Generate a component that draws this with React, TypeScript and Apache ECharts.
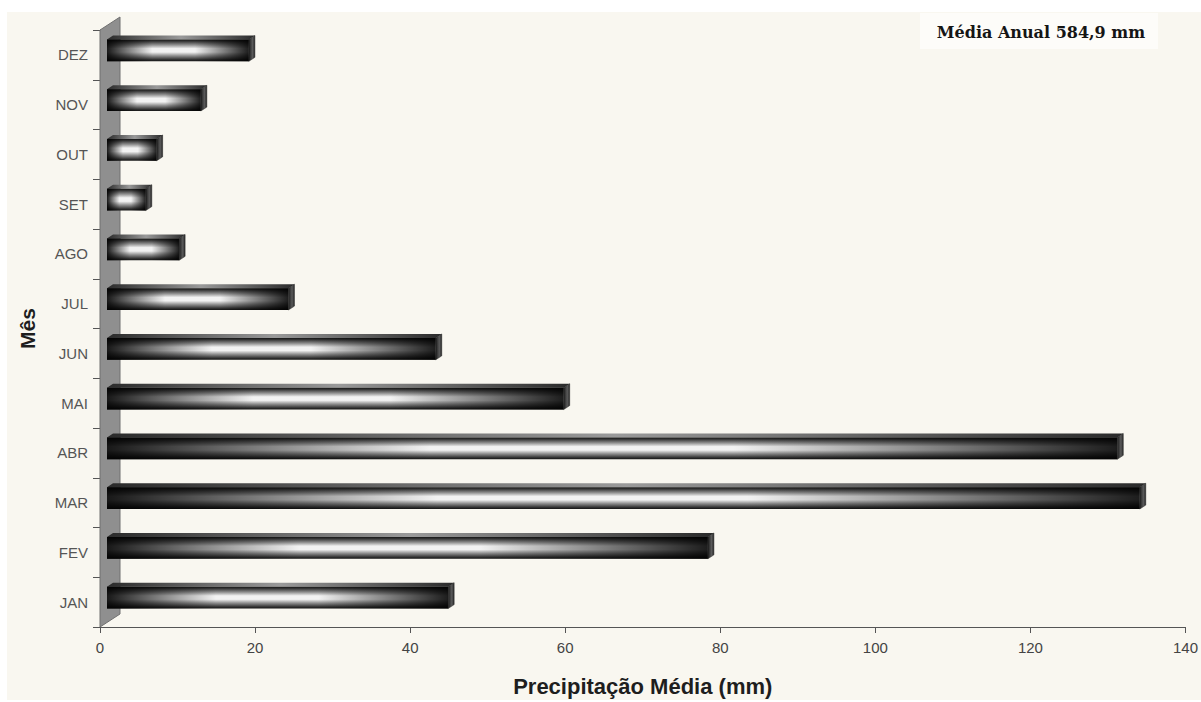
import React, { useEffect, useRef } from "react";
import * as echarts from "echarts";

// ---- data ----
const months = ["JAN", "FEV", "MAR", "ABR", "MAI", "JUN", "JUL", "AGO", "SET", "OUT", "NOV", "DEZ"];
const precipitation = [44.0, 77.5, 133.2, 130.3, 58.9, 42.4, 23.4, 9.3, 5.0, 6.4, 12.1, 18.3];
const xMin = 0;
const xMax = 140;
const xInterval = 20;
const xAxisTitle = "Precipitação Média (mm)";
const yAxisTitle = "Mês";
const annotationText = "Média Anual 584,9 mm";

// 3D depth of the chart (pixels)
const DX = 20;
const DY = 13;

export default function App() {
  const ref = useRef<HTMLDivElement>(null);

  useEffect(() => {
    if (!ref.current) return;
    const chart = echarts.init(ref.current, null, { renderer: "svg" });

    const wallRender = (params: any, api: any) => {
      const cs = params.coordSys;
      const x = cs.x;
      const y = cs.y;
      const h = cs.height;
      return {
        type: "polygon",
        shape: {
          points: [
            [x, y + h],
            [x, y],
            [x + DX, y - DY],
            [x + DX, y + h - DY],
          ],
        },
        style: { fill: "#8f8f8f", stroke: "#707070", lineWidth: 1 },
      };
    };

    const barRender = (params: any, api: any) => {
      const v = api.value(0);
      const idx = api.value(1);
      const p0 = api.coord([0, idx]);
      const p1 = api.coord([v, idx]);
      const band = api.size([0, 1])[1];
      const h = band * 0.44;
      const fx = DX * 0.35;
      const fy = -DY * 0.35;
      const cx = DX * 0.3;
      const cy = -DY * 0.3;
      const x0 = p0[0] + fx;
      const x1 = p1[0] + fx;
      const yT = p0[1] + fy - h / 2;
      const yB = yT + h;
      const w = x1 - x0;
      return {
        type: "group",
        children: [
          {
            type: "polygon",
            shape: { points: [[x0, yT], [x0 + cx, yT + cy], [x1 + cx, yT + cy], [x1, yT]] },
            style: {
              fill: new echarts.graphic.LinearGradient(0, 0, 1, 0, [
                { offset: 0, color: "#2a2a2a" },
                { offset: 0.5, color: "#9a9a9a" },
                { offset: 1, color: "#2a2a2a" },
              ]),
            },
          },
          {
            type: "rect",
            shape: { x: x0, y: yT, width: w, height: h },
            style: {
              fill: new echarts.graphic.LinearGradient(0, 0, 0, 1, [
                { offset: 0, color: "#141414" },
                { offset: 0.08, color: "#333333" },
                { offset: 0.25, color: "#8e8e8e" },
                { offset: 0.42, color: "#f2f2f2" },
                { offset: 0.58, color: "#f2f2f2" },
                { offset: 0.75, color: "#8e8e8e" },
                { offset: 0.92, color: "#333333" },
                { offset: 1, color: "#141414" },
              ]),
            },
          },
          {
            type: "rect",
            shape: { x: x0, y: yT, width: w, height: h },
            style: {
              fill: new echarts.graphic.LinearGradient(0, 0, 1, 0, [
                { offset: 0, color: "rgba(0,0,0,0.9)" },
                { offset: 0.32, color: "rgba(0,0,0,0.0)" },
                { offset: 0.62, color: "rgba(0,0,0,0.0)" },
                { offset: 1, color: "rgba(0,0,0,0.88)" },
              ]),
            },
          },
          {
            type: "polygon",
            shape: { points: [[x1, yT], [x1 + cx, yT + cy], [x1 + cx, yB + cy], [x1, yB]] },
            style: {
              fill: new echarts.graphic.LinearGradient(0, 0, 1, 0, [
                { offset: 0, color: "#1c1c1c" },
                { offset: 0.6, color: "#5a5a5a" },
                { offset: 1, color: "#2a2a2a" },
              ]),
              stroke: "#1a1a1a",
              lineWidth: 0.5,
            },
          },
        ],
      };
    };

    chart.setOption({
      animation: false,
      backgroundColor: "transparent",
      grid: { left: 100, right: 12, top: 30, bottom: 72, containLabel: false },
      xAxis: {
        type: "value",
        min: xMin,
        max: xMax,
        interval: xInterval,
        axisLine: { show: true, lineStyle: { color: "#555", width: 1 } },
        axisTick: { show: true, length: 6, lineStyle: { color: "#555" } },
        splitLine: { show: false },
        axisLabel: { color: "#444", fontSize: 15, fontFamily: "Liberation Sans", margin: 13 },
        name: xAxisTitle,
        nameLocation: "middle",
        nameGap: 48,
        nameTextStyle: { color: "#1e1e1e", fontSize: 22, fontWeight: "bold", fontFamily: "Liberation Sans" },
      },
      yAxis: {
        type: "category",
        data: months,
        axisLine: { show: true, lineStyle: { color: "#666", width: 1 } },
        axisTick: { show: true, length: 7, lineStyle: { color: "#555" } },
        axisLabel: { color: "#555", fontSize: 15, fontFamily: "Liberation Sans", margin: 12 },
        name: yAxisTitle,
        nameLocation: "middle",
        nameRotate: 90,
        nameGap: 62,
        nameTextStyle: { color: "#1e1e1e", fontSize: 21, fontWeight: "bold", fontFamily: "Liberation Sans" },
      },
      graphic: [
        {
          type: "rect",
          left: 920,
          top: 13,
          shape: { width: 238, height: 36 },
          style: { fill: "#fdfcf9" },
          silent: true,
        },
        {
          type: "text",
          x: 1041,
          y: 32,
          style: {
            text: annotationText,
            font: 'bold 16px "DejaVu Serif"',
            fill: "#151515",
            textAlign: "center",
            textVerticalAlign: "middle",
          },
          silent: true,
        },
      ],
      series: [
        {
          type: "custom",
          name: "wall",
          renderItem: wallRender,
          data: [[0, 0]],
          encode: { x: 0, y: 1 },
          z: 1,
          silent: true,
        },
        {
          type: "custom",
          name: "Precipitação",
          renderItem: barRender,
          data: precipitation.map((v, i) => [v, i]),
          encode: { x: 0, y: 1 },
          z: 3,
        },
      ],
    });

    return () => chart.dispose();
  }, []);

  return (
    <div style={{ position: "absolute", left: 0, top: 0, width: 1201, height: 702, background: "#ffffff" }}>
      <div style={{ position: "absolute", left: 7, top: 12, width: 1194, height: 688, background: "#f9f7f0" }} />
      <div ref={ref} style={{ position: "absolute", left: 0, top: 0, width: 1201, height: 702 }} />
    </div>
  );
}
